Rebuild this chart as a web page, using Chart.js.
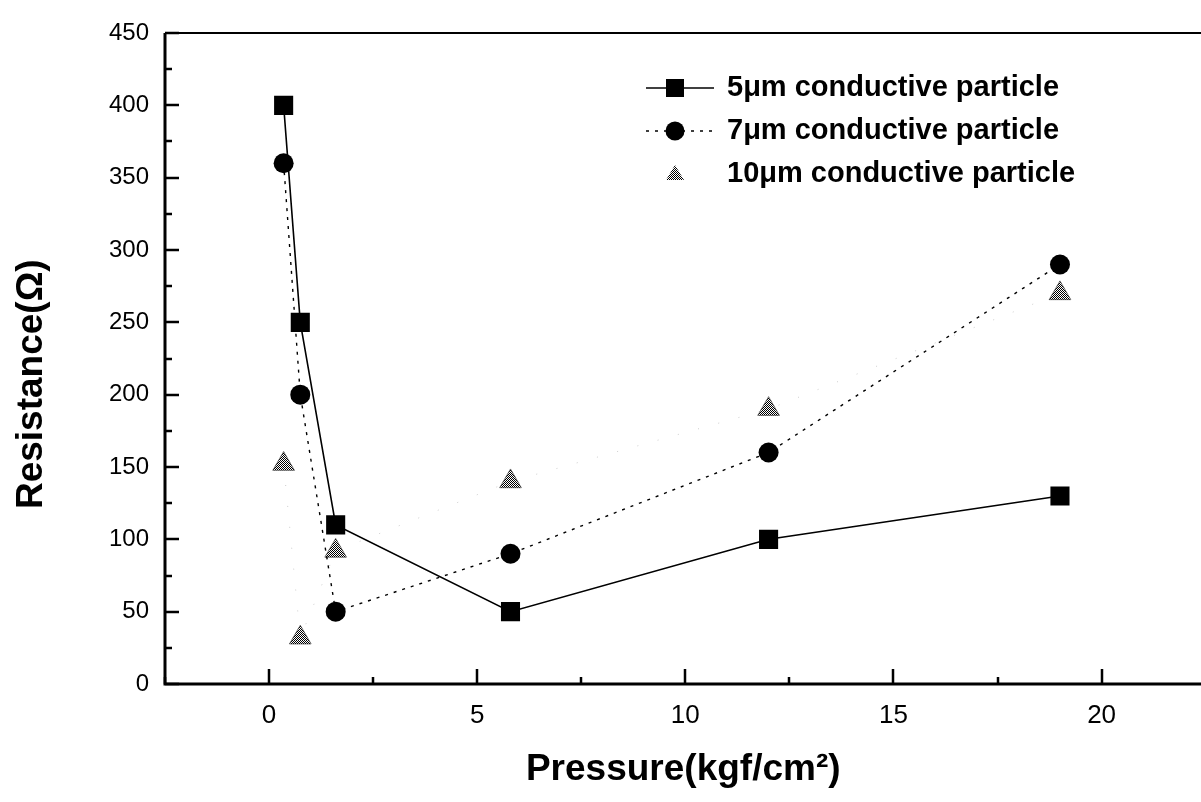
<!DOCTYPE html>
<html>
<head>
<meta charset="utf-8">
<script src="https://cdn.jsdelivr.net/npm/chart.js@4.4.1/dist/chart.umd.min.js"></script>
<style>
  html, body { margin: 0; padding: 0; background: #fff; overflow: hidden; }
  #wrap { width: 1215px; height: 802px; position: relative; }
</style>
</head>
<body>
<div id="wrap"><canvas id="chart"></canvas></div>
<script>
// Dados
const pressure = [0.35, 0.75, 1.6, 5.8, 12, 19];
const res5 = [400, 250, 110, 50, 100, 130];
const res7 = [360, 200, 50, 90, 160, 290];
const res10 = [152, 32, 92, 140, 190, 270];
const seriesLabels = ['5\u03bcm conductive particle', '7\u03bcm conductive particle', '10\u03bcm conductive particle'];
const xTicks = [0, 5, 10, 15, 20];
const yTicks = [0, 50, 100, 150, 200, 250, 300, 350, 400, 450];

const FONT = "'Liberation Sans', Arial, Helvetica, sans-serif";
Chart.defaults.font.family = FONT;
Chart.defaults.color = '#000';

const toPoints = vals => vals.map((v, i) => ({ x: pressure[i], y: v }));

// padrão quadriculado para os triângulos
const hatch = (() => {
    const c = document.createElement('canvas');
    c.width = 2; c.height = 2;
    const g = c.getContext('2d');
    g.fillStyle = '#fff'; g.fillRect(0, 0, 2, 2);
    g.fillStyle = '#000'; g.fillRect(0, 0, 1, 1); g.fillRect(1, 1, 1, 1);
    return g.createPattern(c, 'repeat');
})();

// eixos, moldura e ticks para dentro
const framePlugin = {
    id: 'frame',
    afterDatasetsDraw(chart) {
        const { ctx, chartArea: a, scales: { x, y } } = chart;
        ctx.save();
        ctx.strokeStyle = '#000';
        ctx.lineWidth = 3;
        ctx.beginPath();
        ctx.moveTo(a.left, a.top);
        ctx.lineTo(a.left, a.bottom);
        ctx.lineTo(a.right, a.bottom);
        ctx.stroke();
        ctx.lineWidth = 2;
        ctx.beginPath();
        ctx.moveTo(a.left, a.top);
        ctx.lineTo(a.right, a.top);
        ctx.stroke();

        ctx.lineWidth = 2.5;
        ctx.beginPath();
        for (let v = y.min; v <= y.max; v += 25) {
            const py = Math.round(y.getPixelForValue(v));
            const len = v % 50 === 0 ? 14 : 7;
            ctx.moveTo(a.left, py); ctx.lineTo(a.left + len, py);
        }
        for (let v = -2.5; v <= x.max; v += 2.5) {
            const px = Math.round(x.getPixelForValue(v));
            const len = v % 5 === 0 ? 15 : 7;
            ctx.moveTo(px, a.bottom); ctx.lineTo(px, a.bottom - len);
        }
        ctx.stroke();
        ctx.restore();
    }
};

// legenda desenhada à mão (linha + marcador)
const legendPlugin = {
    id: 'manualLegend',
    afterDraw(chart) {
        const { ctx } = chart;
        const rows = [88, 131, 174];
        const mx = 675, x0 = 646, x1 = 714, tx = 727;
        ctx.save();
        chart.data.datasets.forEach((ds, i) => {
            const yy = rows[i];
            ctx.strokeStyle = '#000';
            ctx.lineWidth = 1.5;
            if (i < 2) {
                ctx.setLineDash(ds.borderDash || []);
                ctx.beginPath();
                ctx.moveTo(x0, yy); ctx.lineTo(x1, yy);
                ctx.stroke();
                ctx.setLineDash([]);
            }
            ctx.fillStyle = ds.pointBackgroundColor;
            ctx.beginPath();
            if (ds.pointStyle === 'rect') {
                ctx.rect(mx - 9, yy - 9, 18, 18);
            } else if (ds.pointStyle === 'circle') {
                ctx.arc(mx, yy, 9.5, 0, Math.PI * 2);
            } else {
                ctx.moveTo(mx, yy - 9); ctx.lineTo(mx + 9, yy + 6); ctx.lineTo(mx - 9, yy + 6); ctx.closePath();
            }
            ctx.fill();
            ctx.fillStyle = '#000';
            ctx.font = 'bold 29px ' + FONT;
            ctx.textBaseline = 'middle';
            ctx.textAlign = 'left';
            ctx.fillText(ds.label, tx, yy);
        });
        ctx.restore();
    }
};

new Chart(document.getElementById('chart'), {
    type: 'scatter',
    data: {
        datasets: [
            {
                label: seriesLabels[0],
                data: toPoints(res5),
                showLine: true,
                borderColor: '#000',
                borderWidth: 1.6,
                pointStyle: 'rect',
                pointRadius: 13.5,
                pointBackgroundColor: '#000',
                pointBorderWidth: 0
            },
            {
                label: seriesLabels[1],
                data: toPoints(res7),
                showLine: true,
                borderColor: '#000',
                borderWidth: 1.4,
                borderDash: [3, 6],
                pointStyle: 'circle',
                pointRadius: 10,
                pointBackgroundColor: '#000',
                pointBorderWidth: 0
            },
            {
                label: seriesLabels[2],
                data: toPoints(res10),
                showLine: true,
                borderColor: '#ccc',
                borderWidth: 1,
                borderDash: [1, 20],
                pointStyle: 'triangle',
                pointRadius: 12.5,
                pointBackgroundColor: hatch,
                pointBorderColor: '#222',
                pointBorderWidth: 0.6
            }
        ]
    },
    options: {
        responsive: true,
        maintainAspectRatio: false,
        animation: false,
        layout: { padding: { top: 33, right: 0, left: 0, bottom: 0 } },
        plugins: { legend: { display: false }, tooltip: { enabled: false } },
        scales: {
            x: {
                type: 'linear',
                min: -2.5,
                max: 22.4,
                afterBuildTicks: s => { s.ticks = xTicks.map(v => ({ value: v })); },
                afterFit: s => { s.height = 118; },
                grid: { display: false, drawTicks: false },
                border: { display: false },
                ticks: { padding: 16, font: { size: 26 }, color: '#000' },
                title: {
                    display: true,
                    text: 'Pressure(kgf/cm\u00b2)',
                    font: { size: 37, weight: 'bold' },
                    padding: { top: 0, bottom: 10 },
                    color: '#000'
                }
            },
            y: {
                type: 'linear',
                min: 0,
                max: 450,
                afterBuildTicks: s => { s.ticks = yTicks.map(v => ({ value: v })); },
                afterFit: s => { s.width = 165; },
                grid: { display: false, drawTicks: false },
                border: { display: false },
                ticks: { padding: 16, font: { size: 24 }, color: '#000' },
                title: {
                    display: true,
                    text: 'Resistance(\u03a9)\u00a0\u00a0\u00a0\u00a0\u00a0',
                    font: { size: 37, weight: 'bold' },
                    padding: { top: 10, bottom: 0 },
                    color: '#000'
                }
            }
        }
    },
    plugins: [framePlugin, legendPlugin]
});
</script>
</body>
</html>
